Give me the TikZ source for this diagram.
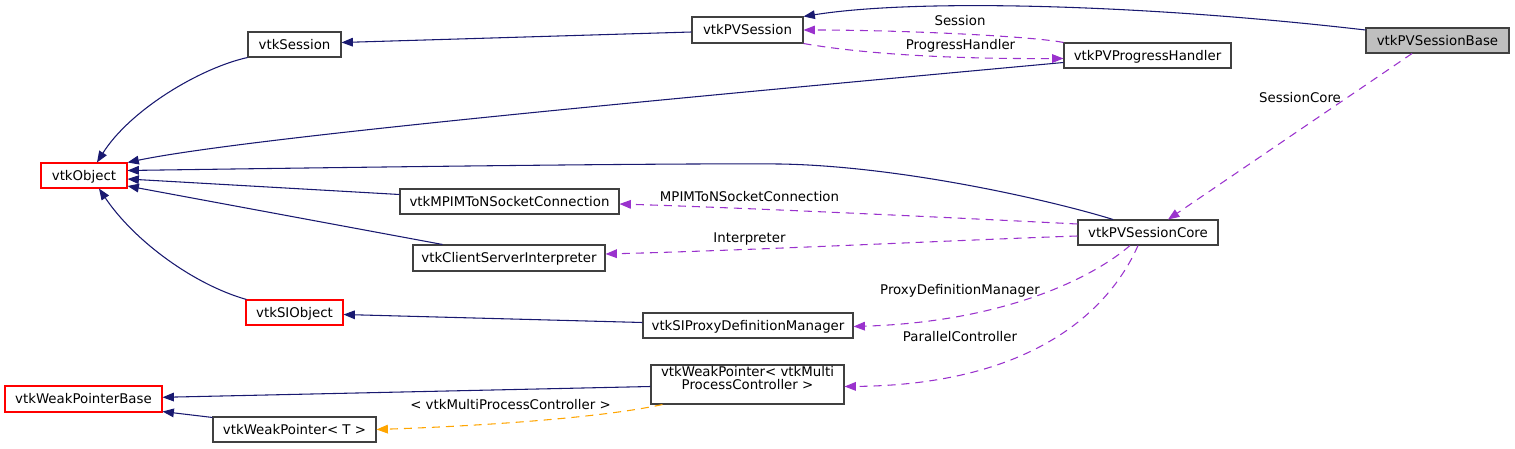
\documentclass[tikz,border=0pt]{standalone}
\usepackage{fontspec}
\setmainfont{DejaVu Sans}
\usetikzlibrary{arrows.meta,calc}
\definecolor{navy}{HTML}{191970}
\definecolor{orchid}{HTML}{9A32CD}
\definecolor{orng}{HTML}{FFA500}
\definecolor{boxgray}{HTML}{404040}
\definecolor{fillgray}{HTML}{BFBFBF}
\definecolor{incred}{HTML}{FF0000}
\tikzset{
  cls/.style={draw=boxgray, line width=0.8pt, fill=white, inner sep=0pt,
    minimum height=25*0.75pt, text height=7.3pt, text depth=0pt, align=center},
  bw/.style={minimum width=#1*0.75pt},
  bh/.style={minimum height=#1*0.75pt},
  inc/.style={cls, draw=incred},
  tip/.style={-{Triangle[length=8.5pt,width=6.5pt]}},
  inh/.style={draw=navy, line width=0.8pt, tip, color=navy},
  use/.style={draw=orchid, color=orchid, line width=0.8pt, tip, dash pattern=on 6pt off 4.5pt},
  tmpl/.style={draw=orng, color=orng, line width=0.8pt, tip, dash pattern=on 6pt off 4.5pt},
  lbl/.style={inner sep=0pt, text height=7.3pt, text depth=0pt, text=black}
}
\begin{document}
\begin{tikzpicture}[x=0.75pt, y=-0.75pt, font=\fontsize{10}{10}\selectfont]
\useasboundingbox (0,0) rectangle (1515,449);

% class nodes
\node[cls, bw=93] (sess) at (294.5,44.5) {vtkSession};
\node[inc, bw=86] (obj) at (84,175.5) {vtkObject};
\node[cls, bw=219] (mpim) at (509.5,201.5) {vtkMPIMToNSocketConnection};
\node[cls, bw=111, bh=26] (pvs) at (747.5,30) {vtkPVSession};
\node[cls, bw=143, fill=fillgray] (base) at (1437.5,40.5) {vtkPVSessionBase};
\node[cls, bw=167] (prog) at (1147.5,55.5) {vtkPVProgressHandler};
\node[cls, bw=140] (core) at (1148,232.5) {vtkPVSessionCore};
\node[cls, bw=192, bh=26] (csi) at (509,258) {vtkClientServerInterpreter};
\node[inc, bw=97] (siobj) at (294.5,312.5) {vtkSIObject};
\node[cls, bw=210] (sipdm) at (748,325.5) {vtkSIProxyDefinitionManager};
\node[cls, bw=193, bh=39] (wpm) at (747.5,384.5) {vtkWeakPointer< vtkMulti\\ProcessController >};
\node[inc, bw=157, bh=26] (wpb) at (83.5,399) {vtkWeakPointerBase};
\node[cls, bw=163] (wpt) at (294.5,429.5) {vtkWeakPointer< T >};

% inheritance edges
\draw[inh] (sess.south west) .. controls (200,68) and (130,110) .. ($(obj.north)+(13,0)$);
\draw[inh] ($(pvs.west)+(0,2)$) -- ($(sess.east)+(0,-2)$);
\draw[inh] ($(base.west)+(0,-10.5)$) .. controls (1150,5) and (920,-2) .. (pvs.north east);
\draw[inh] ($(prog.west)+(0,7)$) .. controls (700,96) and (250,137) .. (obj.north east);
\draw[inh] ($(core.north)+(-35,0)$) .. controls (1050,200) and (900,166) .. (780,164)
   .. controls (660,163) and (300,168) .. ($(obj.east)+(0,-5)$);
\draw[inh] ($(mpim.west)+(0,-7)$) -- ($(obj.east)+(0,3.5)$);
\draw[inh] ($(csi.north west)+(30,0)$) -- ($(obj.east)+(0,10.5)$);
\draw[inh] ($(siobj.north west)+(1,0)$) .. controls (195,285) and (135,242) .. ($(obj.south)+(15,0)$);
\draw[inh] ($(sipdm.west)+(0,-3)$) -- ($(siobj.east)+(0,2)$);
\draw[inh] ($(wpm.west)+(0,2)$) -- ($(wpb.east)+(0,-1.7)$);
\draw[inh] ($(wpt.north west)+(0,1)$) -- ($(wpb.south east)+(0,-1)$);

% usage edges
\draw[use] ($(base.south)+(-25.5,0)$) -- ($(core.north)+(20,0)$);
\draw[use] (prog.north west) .. controls (1030,36) and (900,30) .. (pvs.east);
\draw[use] (pvs.south east) .. controls (870,55) and (960,59) .. ($(prog.west)+(0,3)$);
\draw[use] ($(core.west)+(0,-8.5)$) .. controls (960,218) and (750,208) .. ($(mpim.east)+(0,2.5)$);
\draw[use] ($(core.west)+(0,3.5)$) .. controls (960,240) and (760,250) .. ($(csi.east)+(0,-4)$);
\draw[use] ($(core.south)+(-18,0)$) .. controls (1090,280) and (1000,322) .. ($(sipdm.east)+(0,1)$);
\draw[use] ($(core.south)+(-10,0)$) .. controls (1105,320) and (1020,385) .. ($(wpm.east)+(0,2)$);
\draw[tmpl] ($(wpm.south west)+(12,0)$) .. controls (600,418) and (480,426) .. (wpt.east);

% edge labels
\node[lbl] (lsess) at (960,21) {Session};
\node[lbl] (lprog) at (960.5,45) {ProgressHandler};
\node[lbl] (lcore) at (1300,98) {SessionCore};
\node[lbl] (lmpim) at (749.5,197) {MPIMToNSocketConnection};
\node[lbl] (linterp) at (749.5,238) {Interpreter};
\node[lbl] (lpdm) at (960,290) {ProxyDefinitionManager};
\node[lbl] (lpar) at (960,337) {ParallelController};
\node[lbl] (ltmpl) at (510.5,405) {< vtkMultiProcessController >};
\end{tikzpicture}
\end{document}
